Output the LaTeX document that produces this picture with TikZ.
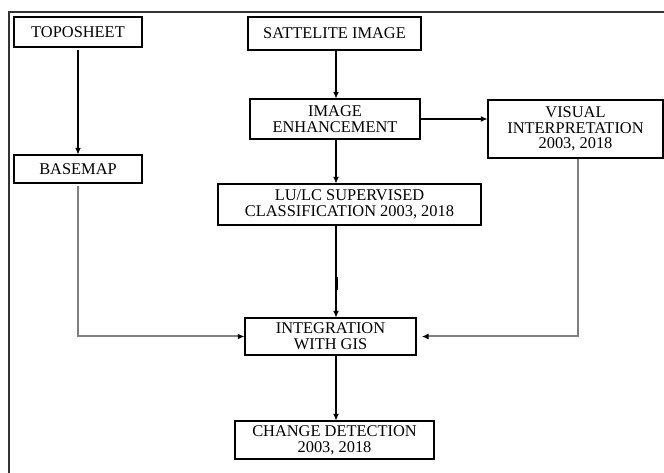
\documentclass[tikz,border=0pt]{standalone}
\usepackage{fontspec}
\setmainfont{Liberation Serif}
\usetikzlibrary{arrows.meta,calc}
\begin{document}
\begin{tikzpicture}[x=0.75pt,y=-0.75pt,
  box/.style={draw=black,line width=0.8pt,inner sep=0pt,align=center,
    font=\fontsize{12.3}{11.8}\selectfont},
  arr/.style={line width=0.8pt,-{Latex[length=5pt,width=4.5pt]}},
  garr/.style={line width=1.5pt,draw=black!50,-{Latex[length=5pt,width=4.5pt,color=black]}}]
\useasboundingbox (0,0) rectangle (664,473);
% frame (left and top edges)
\draw[line width=0.8pt,black!80] (9,473) -- (9,12) -- (664,12);
% boxes
\node[box,minimum width=96pt,minimum height=22.5pt] (topo) at (78,32) {TOPOSHEET};
\node[box,minimum width=96pt,minimum height=21pt] (base) at (78,169) {BASEMAP};
\node[box,minimum width=129.75pt,minimum height=24.75pt] (sat) at (334.5,33.5) {SATTELITE IMAGE};
\node[box,minimum width=127.5pt,minimum height=30pt] (enh) at (335,119) {IMAGE\\ENHANCEMENT};
\node[box,minimum width=131.25pt,minimum height=43.5pt] (vis) at (575.5,129) {VISUAL\\INTERPRETATION\\2003, 2018};
\node[box,minimum width=197.25pt,minimum height=30.75pt] (lulc) at (349.5,204.5) {LU/LC SUPERVISED\\CLASSIFICATION 2003, 2018};
\node[box,minimum width=128.25pt,minimum height=27.75pt] (integ) at (330.5,336.5) {INTEGRATION\\WITH GIS};
\node[box,minimum width=149.25pt,minimum height=28.5pt] (change) at (334.5,440) {CHANGE DETECTION\\2003, 2018};
% coordinates
\coordinate (ax) at (336,0);
% black arrows
\draw[arr] ([yshift=-2pt]topo.south) -- (topo.south |- base.north);
\draw[arr] (ax |- sat.south) -- (ax |- enh.north);
\draw[arr] (ax |- enh.south) -- (ax |- lulc.north);
\draw[arr] (enh.east) -- (vis.west |- enh.east);
\draw[arr] (ax |- lulc.south) -- (ax |- integ.north);
\draw[arr] (ax |- integ.south) -- (ax |- change.north);
\draw[line width=2pt] (337,277) -- (337,290);
% gray connectors
\coordinate (vx) at (578,0);
\draw[garr] ([yshift=-2pt]base.south) |- (integ.west);
\draw[garr,shorten >=4pt] (vx |- vis.south) |- (integ.east);
\end{tikzpicture}
\end{document}
